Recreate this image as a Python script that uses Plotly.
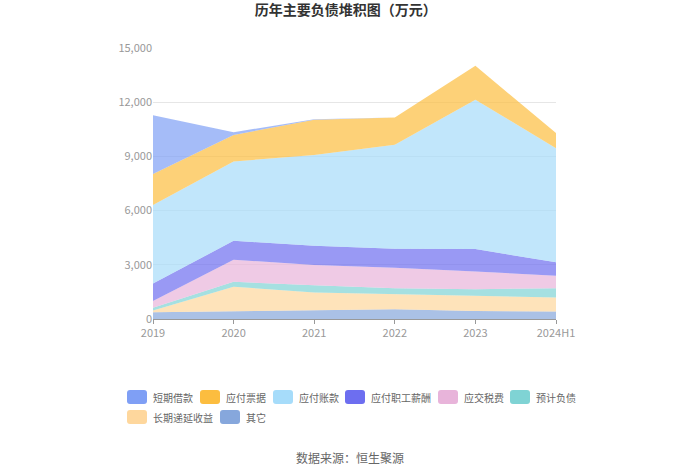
import plotly.graph_objects as go

years = ["2019", "2020", "2021", "2022", "2023", "2024H1"]
# bottom-up stacking order
other = [370, 430, 490, 540, 440, 410]          # 其它
lt_deferred = [100, 1360, 970, 830, 800, 780]   # 长期递延收益
provisions = [150, 270, 410, 330, 410, 510]     # 预计负债
taxes = [380, 1220, 1120, 1140, 980, 690]       # 应交税费
payroll = [960, 1050, 1060, 1050, 1240, 750]    # 应付职工薪酬
payables = [4350, 4390, 5030, 5760, 8270, 6310] # 应付账款
notes = [1720, 1470, 1950, 1510, 1880, 840]     # 应付票据
short_loans = [3250, 150, 20, 0, 0, 0]          # 短期借款

series = [
    ("其它", other, (134, 167, 220)),
    ("长期递延收益", lt_deferred, (254, 215, 157)),
    ("预计负债", provisions, (127, 211, 212)),
    ("应交税费", taxes, (232, 180, 218)),
    ("应付职工薪酬", payroll, (109, 110, 240)),
    ("应付账款", payables, (166, 220, 250)),
    ("应付票据", notes, (252, 189, 63)),
    ("短期借款", short_loans, (127, 159, 245)),
]

L, T, W, H = 153, 48, 403, 271
# legend icon left edge (px) and row centre (px)
legend_pos = {
    "短期借款": (127, 397), "应付票据": (200, 397), "应付账款": (273, 397),
    "应付职工薪酬": (345, 397), "应交税费": (438, 397), "预计负债": (510, 397),
    "长期递延收益": (127, 417), "其它": (220, 417),
}

def px_x(p):
    return (p - L) / W

def px_y(p):
    return (T + H - p) / H

fig = go.Figure()
for name, vals, rgb in series:
    col = "rgba(%d,%d,%d,0.7)" % rgb
    fig.add_trace(go.Scatter(
        x=years, y=vals, name=name, mode="lines", stackgroup="one",
        line=dict(width=0, color=col), fillcolor=col, showlegend=False,
        hoverinfo="x+y+name",
    ))
    # legend entry: rounded rectangle icon + text
    ix, iy = legend_pos[name]
    x0, x1 = px_x(ix), px_x(ix + 20)
    y0, y1 = px_y(iy + 7), px_y(iy - 7)
    rx, ry = 3 / W, 3 / H
    path = (f"M{x0+rx},{y0} L{x1-rx},{y0} Q{x1},{y0} {x1},{y0+ry} "
            f"L{x1},{y1-ry} Q{x1},{y1} {x1-rx},{y1} L{x0+rx},{y1} "
            f"Q{x0},{y1} {x0},{y1-ry} L{x0},{y0+ry} Q{x0},{y0} {x0+rx},{y0} Z")
    fig.add_shape(type="path", path=path, xref="paper", yref="paper",
                  fillcolor="rgb(%d,%d,%d)" % rgb, line=dict(width=0))
    fig.add_annotation(text=name, xref="paper", yref="paper",
                       x=px_x(ix + 24), y=px_y(iy), xanchor="left", yanchor="middle",
                       showarrow=False, font=dict(size=10, color="#666"))

fig.update_layout(
    width=700, height=474,
    margin=dict(l=L, r=700 - L - W, t=T, b=474 - T - H),
    paper_bgcolor="white", plot_bgcolor="white",
    font=dict(family="Noto Sans CJK SC, sans-serif", size=11, color="#666"),
    title=dict(text="<b>历年主要负债堆积图（万元）</b>", x=0.494, xanchor="center",
               y=0.978, yanchor="middle", font=dict(size=14, color="#333")),
    xaxis=dict(type="category", range=[0, 5], showgrid=False, showline=True,
               linecolor="#999", ticks="outside", ticklen=4, tickcolor="#999",
               tickfont=dict(size=11, color="#999")),
    yaxis=dict(range=[0, 15000], tickvals=[0, 3000, 6000, 9000, 12000, 15000],
               tickformat=",", showgrid=True, gridcolor="#e6e6e6", zeroline=False,
               showline=False, tickfont=dict(size=11, color="#999")),
    showlegend=False,
)

fig.add_annotation(text="数据来源：恒生聚源", xref="paper", yref="paper",
                   x=px_x(350), y=px_y(457), xanchor="center", yanchor="middle",
                   showarrow=False, font=dict(size=12, color="#666"))

fig.write_html("out.html", config={"displayModeBar": False},
               post_script="document.body.style.margin='0px';")
